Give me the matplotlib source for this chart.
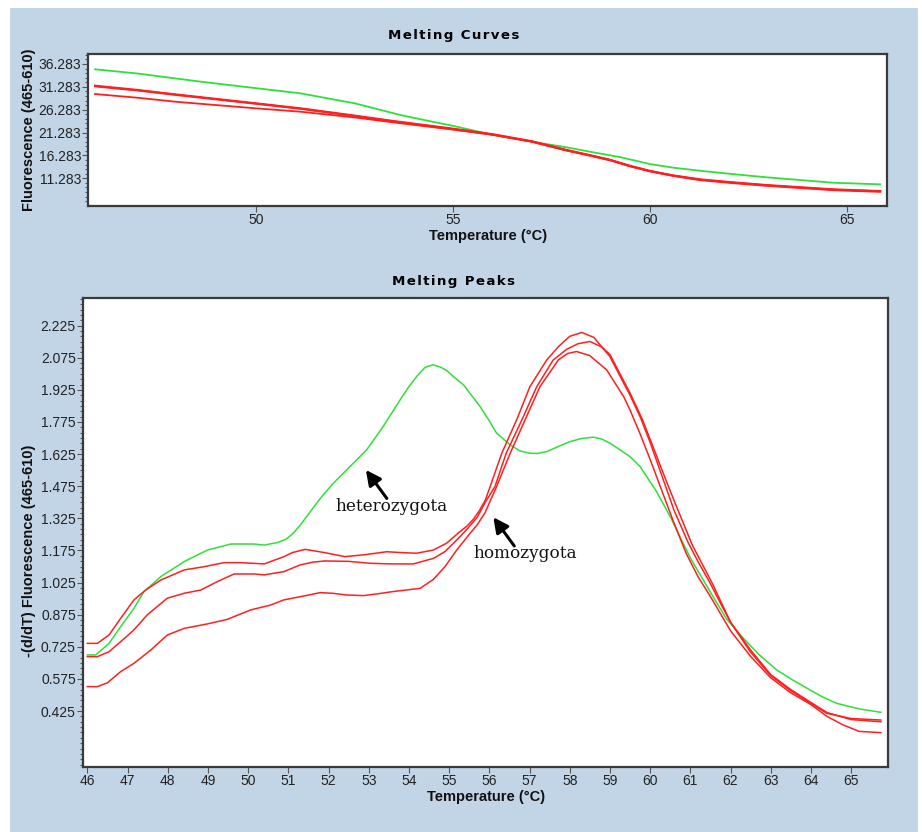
import matplotlib
matplotlib.use("Agg")
import matplotlib.pyplot as plt
from matplotlib.patches import Rectangle
from matplotlib.ticker import MultipleLocator, FixedLocator

# ---------------- data: Melting Curves (top) ----------------
curve_green_t = [45.92, 47.0, 48.59, 50.0, 51.13, 52.5, 53.67, 54.4, 55.02, 56.03, 57.0, 57.89, 58.6, 59.25, 60.0, 60.6, 61.27, 62.1, 62.97, 64.66, 65.84]
curve_green_f = [35.12, 34.2, 32.43, 31.0, 29.87, 27.7, 25.12, 23.8, 22.72, 20.74, 19.3, 18.05, 16.9, 15.9, 14.40, 13.6, 12.93, 12.2, 11.49, 10.31, 9.96]

curve_red1_t = [45.92, 47.0, 48.0, 50.0, 51.13, 52.5, 53.5, 54.94, 56.03, 57.0, 57.89, 58.5, 59.0, 59.5, 60.0, 60.6, 61.27, 62.1, 62.97, 64.66, 65.84]
curve_red1_f = [31.54, 30.6, 29.6, 27.68, 26.59, 25.0, 23.8, 22.21, 20.9, 19.4, 17.47, 16.3, 15.3, 14.0, 12.9, 11.9, 11.05, 10.4, 9.8, 8.86, 8.49]
curve_red2_f = [31.40, 30.5, 29.5, 27.6, 26.5, 24.9, 23.7, 22.10, 20.8, 19.3, 17.35, 16.2, 15.2, 13.9, 12.8, 11.8, 10.9, 10.25, 9.65, 8.70, 8.35]
curve_red3_t = [45.92, 47.0, 48.0, 50.0, 51.13, 52.5, 53.5, 54.94, 56.03, 57.0, 57.89, 58.5, 59.0, 59.5, 60.0, 60.6, 61.27, 62.1, 62.97, 64.66, 65.84]
curve_red3_f = [29.72, 28.9, 28.0, 26.59, 25.85, 24.6, 23.5, 22.0, 20.8, 19.3, 17.4, 16.25, 15.25, 13.95, 12.85, 11.85, 11.0, 10.35, 9.75, 8.80, 8.45]

# ---------------- data: Melting Peaks (bottom) ----------------
peak_green_t = [46.0, 46.21, 46.54, 46.83, 47.16, 47.41, 47.83, 48.41, 48.99, 49.57, 50.15, 50.40, 50.73, 50.95, 51.12,
                51.3, 51.55, 51.8, 52.1, 52.45, 52.95, 53.36, 53.78, 54.0, 54.19, 54.4, 54.6, 54.8, 54.94, 55.15,
                55.36, 55.77, 56.0, 56.18, 56.52, 56.76, 57.01, 57.2, 57.43, 58.0, 58.3, 58.59, 58.8, 59.0, 59.25,
                59.5, 59.75, 60.16, 60.5, 61.0, 61.5, 61.9, 62.32, 62.7, 63.15, 63.5, 63.98, 64.3, 64.64, 65.2, 65.74]
peak_green_v = [0.687, 0.687, 0.741, 0.819, 0.905, 0.983, 1.053, 1.123, 1.177, 1.205, 1.205, 1.200, 1.212, 1.228, 1.255,
                1.294, 1.357, 1.419, 1.485, 1.551, 1.645, 1.754, 1.878, 1.940, 1.987, 2.030, 2.042, 2.030, 2.015, 1.980,
                1.948, 1.847, 1.780, 1.723, 1.668, 1.640, 1.629, 1.628, 1.637, 1.683, 1.698, 1.704, 1.695, 1.676, 1.645,
                1.613, 1.567, 1.450, 1.333, 1.140, 0.980, 0.855, 0.765, 0.690, 0.617, 0.575, 0.523, 0.490, 0.461, 0.435, 0.419]

peak_redA_t = [46.0, 46.25, 46.54, 46.83, 47.16, 47.45, 47.83, 48.41, 48.90, 49.40, 49.82, 50.40, 50.89, 51.1, 51.42,
               51.9, 52.41, 52.9, 53.45, 53.8, 54.19, 54.61, 54.94, 55.22, 55.45, 55.6, 55.75, 55.9, 56.02, 56.31,
               56.68, 57.01, 57.43, 57.72, 58.0, 58.30, 58.6, 59.0, 59.25, 59.5, 59.75, 60.0, 60.3, 60.6, 60.95,
               61.2, 61.5, 61.8, 62.0, 62.5, 63.0, 63.5, 64.0, 64.4, 65.0, 65.74]
peak_redA_v = [0.741, 0.741, 0.780, 0.858, 0.944, 0.990, 1.037, 1.084, 1.099, 1.118, 1.118, 1.112, 1.146, 1.165, 1.180,
               1.165, 1.146, 1.155, 1.169, 1.165, 1.162, 1.177, 1.209, 1.255, 1.290, 1.320, 1.360, 1.410, 1.473, 1.629,
               1.785, 1.940, 2.065, 2.127, 2.175, 2.193, 2.170, 2.080, 1.990, 1.900, 1.800, 1.680, 1.520, 1.360, 1.210,
               1.120, 1.020, 0.910, 0.840, 0.700, 0.590, 0.520, 0.460, 0.414, 0.390, 0.383]

peak_redB_t = [46.0, 46.25, 46.54, 46.83, 47.16, 47.49, 47.99, 48.41, 48.82, 49.23, 49.65, 50.15, 50.40, 50.89, 51.29,
               51.6, 51.91, 52.5, 53.03, 53.6, 54.11, 54.61, 54.9, 55.19, 55.45, 55.7, 55.9, 56.14, 56.42, 56.81,
               57.18, 57.59, 57.93, 58.2, 58.5, 58.8, 59.0, 59.25, 59.5, 59.8, 60.05, 60.4, 60.7, 61.05, 61.3,
               61.55, 62.0, 62.5, 63.0, 63.5, 64.0, 64.4, 65.0, 65.74]
peak_redB_v = [0.679, 0.679, 0.702, 0.749, 0.804, 0.874, 0.952, 0.975, 0.990, 1.029, 1.065, 1.065, 1.061, 1.076, 1.107,
               1.120, 1.126, 1.124, 1.115, 1.112, 1.112, 1.138, 1.170, 1.224, 1.275, 1.330, 1.400, 1.473, 1.629, 1.785,
               1.940, 2.065, 2.115, 2.140, 2.151, 2.125, 2.090, 2.000, 1.910, 1.790, 1.670, 1.500, 1.360, 1.200, 1.110,
               1.020, 0.840, 0.710, 0.595, 0.525, 0.465, 0.418, 0.385, 0.375]

peak_redC_t = [46.0, 46.25, 46.50, 46.83, 47.16, 47.58, 47.99, 48.41, 48.99, 49.48, 50.06, 50.56, 50.89, 51.46, 51.79,
               52.1, 52.45, 52.87, 53.2, 53.61, 54.28, 54.61, 54.9, 55.19, 55.5, 55.7, 55.89, 56.18, 56.52, 56.89,
               57.26, 57.72, 57.95, 58.17, 58.5, 58.92, 59.34, 59.5, 59.75, 60.0, 60.3, 60.6, 60.9, 61.2, 61.5,
               62.0, 62.5, 63.0, 63.5, 64.0, 64.4, 64.8, 65.2, 65.74]
peak_redC_v = [0.539, 0.539, 0.557, 0.609, 0.648, 0.710, 0.780, 0.811, 0.832, 0.853, 0.897, 0.920, 0.944, 0.965, 0.978,
               0.975, 0.967, 0.964, 0.972, 0.983, 0.998, 1.040, 1.100, 1.177, 1.250, 1.295, 1.350, 1.473, 1.629, 1.785,
               1.940, 2.065, 2.095, 2.104, 2.085, 2.018, 1.894, 1.831, 1.720, 1.600, 1.450, 1.300, 1.160, 1.050, 0.960,
               0.800, 0.680, 0.580, 0.510, 0.455, 0.400, 0.360, 0.330, 0.324]

top_yticks = [11.283, 16.283, 21.283, 26.283, 31.283, 36.283]
top_xticks = [50, 55, 60, 65]
bot_yticks = [0.425, 0.575, 0.725, 0.875, 1.025, 1.175, 1.325, 1.475, 1.625, 1.775, 1.925, 2.075, 2.225]
bot_xticks = list(range(46, 66))

annot_labels = ["heterozygota", "homozygota"]
titles = ["Melting Curves", "Melting Peaks"]

# ---------------- style ----------------
BG = "#c2d5e6"
RED = "#ff1f1f"
GREEN = "#2ee03a"
SPINE = "#3a3a3a"
W, H = 922, 832

fig = plt.figure(figsize=(W / 100, H / 100), dpi=100)
fig.patch.set_facecolor("white")
fig.add_artist(Rectangle((10 / W, 0), (918 - 10) / W, (H - 8) / H, transform=fig.transFigure,
                         facecolor=BG, edgecolor="none", zorder=-10))

def style_axes(ax):
    for s in ax.spines.values():
        s.set_color(SPINE)
        s.set_linewidth(1.6)
    ax.tick_params(axis="both", which="major", direction="out", length=4, width=0.8,
                   color="#555555", labelsize=10, pad=1)
    ax.tick_params(axis="both", which="minor", direction="out", length=2.5, width=0.8, color="#555555")
    for lab in ax.get_xticklabels() + ax.get_yticklabels():
        lab.set_fontfamily("Liberation Sans")
        lab.set_color("#222222")

# ---------------- top axes ----------------
ax1 = fig.add_axes([88.3 / W, 1 - 205.7 / H, 799 / W, 151.7 / H])
ax1.set_facecolor("white")
ax1.plot(curve_green_t, curve_green_f, color=GREEN, lw=1.3)
ax1.plot(curve_red1_t, curve_red1_f, color=RED, lw=1.5)
ax1.plot(curve_red1_t, curve_red2_f, color=RED, lw=1.5)
ax1.plot(curve_red3_t, curve_red3_f, color=RED, lw=1.3)
ax1.set_xlim(45.75, 66.02)
ax1.set_ylim(5.29, 38.47)
ax1.xaxis.set_major_locator(FixedLocator(top_xticks))
ax1.yaxis.set_major_locator(FixedLocator(top_yticks))
ax1.yaxis.set_minor_locator(FixedLocator([v + k for v in [6.283] + top_yticks for k in range(5)]))
ax1.set_yticklabels([f"{v:.3f}" for v in top_yticks])
ax1.set_xticklabels([str(v) for v in top_xticks])
style_axes(ax1)

# ---------------- bottom axes ----------------
ax2 = fig.add_axes([82.7 / W, 1 - 766.7 / H, 805 / W, 468.7 / H])
ax2.set_facecolor("white")
for t, v, c in [(peak_green_t, peak_green_v, GREEN), (peak_redA_t, peak_redA_v, RED),
                (peak_redB_t, peak_redB_v, RED), (peak_redC_t, peak_redC_v, RED)]:
    ax2.plot(t, v, color=c, lw=1.1, solid_joinstyle="round")
ax2.set_xlim(45.885, 65.91)
ax2.set_ylim(0.165, 2.354)
ax2.xaxis.set_major_locator(FixedLocator(bot_xticks))
ax2.yaxis.set_major_locator(FixedLocator(bot_yticks))
ax2.yaxis.set_minor_locator(MultipleLocator(0.025, offset=0.0))
ax2.set_yticklabels([f"{v:.3f}" for v in bot_yticks])
ax2.set_xticklabels([str(v) for v in bot_xticks])
style_axes(ax2)

arrow_kw = dict(arrowstyle="-|>,head_length=0.9,head_width=0.45", color="black", lw=2.2,
                shrinkA=0, shrinkB=0)
ax2.annotate("", xy=(52.93, 1.551), xytext=(53.45, 1.418), arrowprops=arrow_kw)
ax2.text(53.58, 1.378, annot_labels[0], family="DejaVu Serif", fontsize=12.2,
         ha="center", va="center", color="#111111")
ax2.annotate("", xy=(56.10, 1.330), xytext=(56.62, 1.196), arrowprops=arrow_kw)
ax2.text(56.89, 1.159, annot_labels[1], family="DejaVu Serif", fontsize=12.2,
         ha="center", va="center", color="#111111")

# ---------------- titles / labels ----------------
HAIR = "\u200a"
title_kw = dict(family="DejaVu Sans", weight="bold", fontsize=9.6, ha="center", va="center")
fig.text(453.5 / W, 1 - 36 / H, HAIR.join(titles[0]), **title_kw)
fig.text(453.5 / W, 1 - 281 / H, HAIR.join(titles[1]), **title_kw)

lab_kw = dict(family="Liberation Sans", weight="bold", fontsize=10.5, ha="center", va="center", color="#111111")
fig.text(488 / W, 1 - 236 / H, "Temperature (°C)", **lab_kw)
fig.text(486 / W, 1 - 797 / H, "Temperature (°C)", **lab_kw)
fig.text(29 / W, 1 - 130 / H, "Fluorescence (465-610)", rotation=90, **lab_kw)
fig.text(29 / W, 1 - 551 / H, "-(d/dT) Fluorescence (465-610)", rotation=90, **lab_kw)

fig.savefig("out.png", dpi=100, facecolor=fig.get_facecolor())
